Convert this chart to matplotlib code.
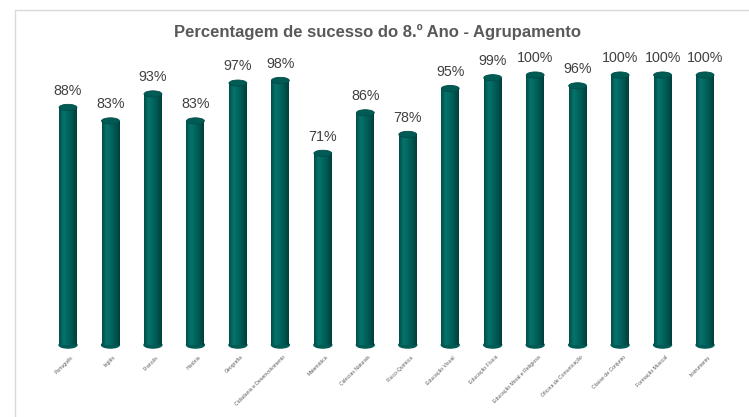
import matplotlib.pyplot as plt
import numpy as np
from matplotlib.colors import LinearSegmentedColormap
from matplotlib.patches import Ellipse, Rectangle

plt.rcParams['font.family'] = ['Liberation Sans', 'DejaVu Sans']

disciplinas = [
	"Português", "Inglês", "Francês", "História", "Geografia",
	"Cidadania e Desenvolvimento", "Matemática", "Ciências Naturais",
	"Físico-Química", "Educação Visual", "Educação Física",
	"Educação Moral e Religiosa", "Oficina de Comunicação",
	"Classe de Conjunto", "Formação Musical", "Instrumento"
]
sucesso = [88, 83, 93, 83, 97, 98, 71, 86, 78, 95, 99, 100, 96, 100, 100, 100]

titulo = "Percentagem de sucesso do 8.º Ano - Agrupamento"

# cylinder shading, left to right
shade = LinearSegmentedColormap.from_list(
	"cyl", ["#004d48", "#08726b", "#00675f", "#00544f", "#003f3b"])
grad = np.linspace(0, 1, 64).reshape(1, -1)

fig = plt.figure(figsize=(7.49, 4.17), dpi=100)
ax = fig.add_axes([15 / 749, 0, 727 / 749, 407 / 417])

bar_w = 0.42
cap_h = 2.3

x = np.arange(len(disciplinas))
bars = ax.bar(x, sucesso, width=bar_w, color="#00635d", zorder=2)

for xi, v, b in zip(x, sucesso, bars):
	# rounded bottom
	ax.add_patch(Ellipse((xi, 0), bar_w, cap_h, color="#005a54", zorder=1))
	im = ax.imshow(grad, cmap=shade, aspect="auto", zorder=3,
		extent=(xi - bar_w / 2, xi + bar_w / 2, 0, v))
	im.set_clip_path(b)
	# top cap
	ax.add_patch(Ellipse((xi, v), bar_w, cap_h, facecolor="#005b55",
		edgecolor="#004c47", linewidth=0.6, zorder=4))
	ax.annotate(f"{v}%", (xi, v), xytext=(0, 7), textcoords="offset points",
		ha="center", va="bottom", fontsize=10.3, color="#404040")

for xi, name in zip(x, disciplinas):
	ax.annotate(name, (xi, 0), xytext=(2, -7), textcoords="offset points",
		ha="right", va="top", rotation=45, rotation_mode="anchor",
		fontsize=3.7, color="#595959")

ax.set_xlim(-1.248, 15.87)
ax.set_ylim(-26.7, 124.1)
ax.axis("off")

# chart frame (top and left edges visible)
fig.add_artist(Rectangle((15 / 749, -0.05), 1.0, (407 / 417) + 0.05,
	transform=fig.transFigure, fill=False, edgecolor="#d9d9d9", linewidth=1.0))

fig.text(378 / 749, 1 - 32 / 417, titulo, ha="center", va="center",
	fontsize=12, fontweight="bold", color="#595959")

fig.savefig("out.png", dpi=100)
